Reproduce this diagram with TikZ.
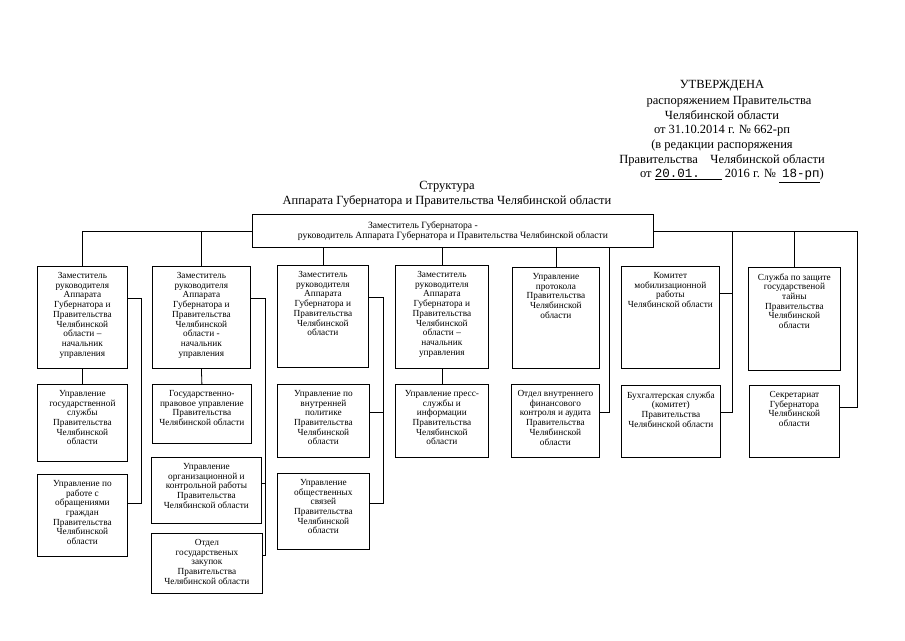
\documentclass[tikz,border=0pt]{standalone}
\usepackage{fontspec}
\setmainfont{Liberation Serif}
\setmonofont{Liberation Mono}
\usepackage{tikz}

\begin{document}
\begin{tikzpicture}[x=1pt, y=-1pt, line width=0.8pt,
        unit/.style = {draw,
            anchor=north west,
            inner sep=0pt},
        caption/.style = {anchor=north,
            align=center,
            inner sep=0pt,
            yshift=-6pt,
            font=\fontsize{9.3}{9.7}\selectfont},
        heading/.style = {align=center,
            inner sep=0pt,
            font=\fontsize{12.5}{14.7}\selectfont}]

    \useasboundingbox (0,0) rectangle (905,640);

    % Approval stamp
    \node[heading, anchor=north] (approved) at (722,80) {УТВЕРЖДЕНА\\[1pt]
        \hspace*{14pt}распоряжением Правительства\\
        Челябинской области\\
        от 31.10.2014 г. № 662-рп\\
        (в редакции распоряжения\\
        Правительства\quad Челябинской области\\
        \hspace*{20pt}от \underline{\texttt{20.01.}\hspace{22pt}} 2016 г. № \underline{\ \texttt{18-рп}})};

    % Title
    \node[heading, anchor=north] (title) at (447,181) {Структура\\
        Аппарата Губернатора и Правительства Челябинской области};

    % Head of the apparatus
    \node[unit, minimum width=401pt, minimum height=33pt, align=center,
        font=\fontsize{9.6}{10}\selectfont] (head) at (252,214)
        {Заместитель Губернатора -\hspace*{60pt}\\
        руководитель Аппарата Губернатора и Правительства Челябинской области};

    % Column 1
    \node[unit, minimum width=90pt, minimum height=102pt,
        label={[caption]north:{Заместитель\\руководителя\\Аппарата\\Губернатора и\\Правительства\\Челябинской\\области –\\начальник\\управления}}] (c1) at (37,266) {};
    \node[unit, minimum width=90pt, minimum height=77pt,
        label={[caption]north:{Управление\\государственной\\службы\\Правительства\\Челябинской\\области}}] (c1a) at (37,384) {};
    \node[unit, minimum width=90pt, minimum height=82pt,
        label={[caption]north:{Управление по\\работе с\\обращениями\\граждан\\Правительства\\Челябинской\\области}}] (c1b) at (37,474) {};

    % Column 2
    \node[unit, minimum width=98pt, minimum height=102pt,
        label={[caption]north:{Заместитель\\руководителя\\Аппарата\\Губернатора и\\Правительства\\Челябинской\\области -\\начальник\\управления}}] (c2) at (152,266) {};
    \node[unit, minimum width=99pt, minimum height=59pt,
        label={[caption]north:{Государственно-\\правовое управление\\Правительства\\Челябинской области}}] (c2a) at (152,384) {};
    \node[unit, minimum width=110pt, minimum height=66pt,
        label={[caption]north:{Управление\\организационной и\\контрольной работы\\Правительства\\Челябинской области}}] (c2b) at (151,457) {};
    \node[unit, minimum width=111pt, minimum height=60pt,
        label={[caption]north:{Отдел\\государственых\\закупок\\Правительства\\Челябинской области}}] (c2c) at (151,533) {};

    % Column 3
    \node[unit, minimum width=91pt, minimum height=102pt,
        label={[caption]north:{Заместитель\\руководителя\\Аппарата\\Губернатора и\\Правительства\\Челябинской\\области}}] (c3) at (277,265) {};
    \node[unit, minimum width=92pt, minimum height=73pt,
        label={[caption]north:{Управление по\\внутренней\\политике\\Правительства\\Челябинской\\области}}] (c3a) at (277,384) {};
    \node[unit, minimum width=92pt, minimum height=76pt,
        label={[caption]north:{Управление\\общественных\\связей\\Правительства\\Челябинской\\области}}] (c3b) at (277,473) {};

    % Column 4
    \node[unit, minimum width=93pt, minimum height=103pt,
        label={[caption]north:{Заместитель\\руководителя\\Аппарата\\Губернатора и\\Правительства\\Челябинской\\области –\\начальник\\управления}}] (c4) at (395,265) {};
    \node[unit, minimum width=93pt, minimum height=73pt,
        label={[caption]north:{Управление пресс-\\службы и\\информации\\Правительства\\Челябинской\\области}}] (c4a) at (395,384) {};

    % Column 5
    \node[unit, minimum width=87pt, minimum height=101pt,
        label={[caption]north:{Управление\\протокола\\Правительства\\Челябинской\\области}}] (c5) at (512,267) {};
    \node[unit, minimum width=88pt, minimum height=73pt,
        label={[caption]north:{Отдел внутреннего\\финансового\\контроля и аудита\\Правительства\\Челябинской\\области}}] (c5a) at (511,384) {};

    % Column 6
    \node[unit, minimum width=98pt, minimum height=102pt,
        label={[caption]north:{Комитет\\мобилизационной\\работы\\Челябинской области}}] (c6) at (621,266) {};
    \node[unit, minimum width=99pt, minimum height=72pt,
        label={[caption]north:{Бухгалтерская служба\\(комитет)\\Правительства\\Челябинской области}}] (c6a) at (621,385) {};

    % Column 7
    \node[unit, minimum width=92pt, minimum height=103pt,
        label={[caption]north:{Служба по защите\\государственой\\тайны\\Правительства\\Челябинской\\области}}] (c7) at (748,267) {};
    \node[unit, minimum width=90pt, minimum height=72pt,
        label={[caption]north:{Секретариат\\Губернатора\\Челябинской\\области}}] (c7a) at (749,385) {};

    % Links from the head
    \draw (head.west) -| (c1.north);
    \draw (head.west) -| (c2.north);
    \draw (c3.north |- head.south) -- (c3.north);
    \draw (c4.north |- head.south) -- (c4.north);
    \draw (c5.north |- head.south) -- (c5.north);
    \draw ([xshift=10pt]c5a.north east |- head.south) |- ([yshift=-28pt]c5a.north east);
    \draw (head.east) -| ([xshift=12pt,yshift=-27pt]c6a.north east) -- ([yshift=-27pt]c6a.north east);
    \draw ([yshift=-27pt]c6.north east) -- +(12,0);
    \draw (head.east) -| (c7.north);
    \draw (head.east) -| ([xshift=18pt,yshift=-22pt]c7a.north east) -- ([yshift=-22pt]c7a.north east);

    % Links inside the columns
    \draw (c1.south) -- (c1a.north);
    \draw ([yshift=-32pt]c1.north east) -| ([xshift=14pt,yshift=-29pt]c1b.north east) -- ([yshift=-29pt]c1b.north east);
    \draw (c2.south) -- (c2a.north);
    \draw ([yshift=-32pt]c2.north east) -| ([xshift=3pt,yshift=-22pt]c2c.north east) -- ([yshift=-22pt]c2c.north east);
    \draw ([yshift=-26pt]c2b.north east) -- +(4,0);
    \draw ([yshift=-32pt]c3.north east) -| ([xshift=14pt,yshift=-30pt]c3b.north east) -- ([yshift=-30pt]c3b.north east);
    \draw ([yshift=-28pt]c3a.north east) -- +(14,0);
    \draw (c4.south) -- (c4a.north);

\end{tikzpicture}
\end{document}
